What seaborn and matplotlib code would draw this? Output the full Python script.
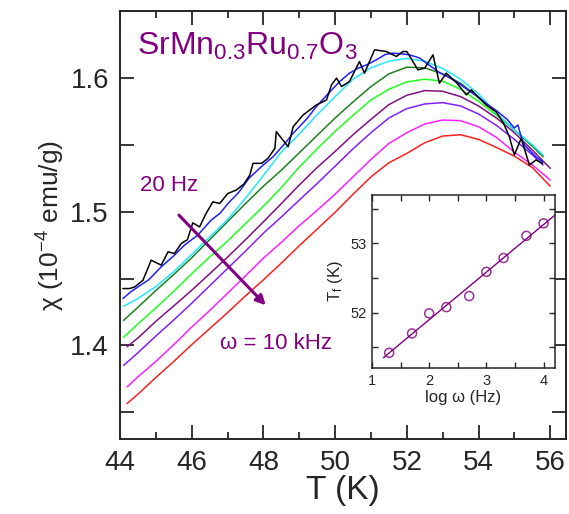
import matplotlib
matplotlib.use("Agg")
import matplotlib.pyplot as plt
import seaborn as sns
import pandas as pd
import numpy as np

# temperature grids (K)
t_short = [44.1, 44.5, 45.0, 45.5, 46.0, 46.5, 47.0, 47.5, 48.0, 48.5, 49.0, 49.5, 50.0,
           50.5, 51.0, 51.5, 52.0, 52.5, 53.0, 53.5, 54.0, 54.5, 55.0, 55.5, 55.8]
t_long = [44.2, 44.5, 45.0, 45.5, 46.0, 46.5, 47.0, 47.5, 48.0, 48.5, 49.0, 49.5, 50.0,
          50.5, 51.0, 51.5, 52.0, 52.5, 53.0, 53.5, 54.0, 54.5, 55.0, 55.5, 56.0]

# 20 Hz (noisy)
t_20hz = [44.08, 44.27, 44.41, 44.64, 44.87, 45.15, 45.34, 45.52, 45.71, 45.88, 46.03, 46.22,
          46.40, 46.59, 46.78, 47.01, 47.24, 47.45, 47.62, 47.71, 47.95, 48.13, 48.32, 48.36,
          48.69, 48.83, 49.11, 49.48, 49.76, 49.90, 50.04, 50.18, 50.40, 50.68, 50.82, 51.10,
          51.43, 51.71, 51.89, 52.00, 52.31, 52.50, 52.73, 52.91, 53.10, 53.40, 53.66, 53.80,
          53.98, 54.21, 54.49, 54.70, 54.86, 55.00, 55.19, 55.42, 55.60, 55.79]
chi_20hz = [1.4425, 1.4425, 1.4437, 1.4487, 1.4637, 1.4600, 1.4699, 1.4687, 1.4762, 1.4790, 1.4916, 1.4886,
            1.4986, 1.5073, 1.5061, 1.5136, 1.5161, 1.5205, 1.5273, 1.5361, 1.5361, 1.5399, 1.5473, 1.5598,
            1.5485, 1.5635, 1.5723, 1.5798, 1.5835, 1.5948, 1.5998, 1.5935, 1.5973, 1.6122, 1.6035, 1.6210,
            1.6197, 1.6160, 1.6197, 1.6197, 1.6060, 1.6073, 1.6172, 1.5960, 1.6035, 1.5960, 1.5873, 1.5910,
            1.5860, 1.5798, 1.5748, 1.5660, 1.5560, 1.5423, 1.5548, 1.5348, 1.5386, 1.5361]

# 50 Hz
t_50hz = [44.08, 44.3, 44.5, 44.8, 45.15, 45.5, 45.8, 46.17, 46.54, 46.8, 47.01, 47.3, 47.6, 48.0,
          48.27, 48.6, 48.83, 49.2, 49.48, 49.8, 50.13, 50.4, 50.64, 50.9, 51.15, 51.4, 51.61, 51.85,
          52.08, 52.36, 52.6, 52.91, 53.2, 53.38, 53.7, 54.0, 54.21, 54.5, 54.8, 55.0, 55.1, 55.19,
          55.28, 55.42, 55.6, 55.79]
chi_50hz = [1.4350, 1.4400, 1.4437, 1.4490, 1.4587, 1.4670, 1.4750, 1.4824, 1.4936, 1.4990, 1.5061, 1.5140,
            1.5250, 1.5350, 1.5410, 1.5510, 1.5586, 1.5690, 1.5786, 1.5880, 1.5973, 1.6035, 1.6072, 1.6100,
            1.6135, 1.6175, 1.6185, 1.6180, 1.6172, 1.6148, 1.6100, 1.6040, 1.6000, 1.5972, 1.5910, 1.5855,
            1.5810, 1.5755, 1.5690, 1.5625, 1.5648, 1.5560, 1.5498, 1.5460, 1.5410, 1.5373]

chi_100hz = [1.4292, 1.4350, 1.4440, 1.4550, 1.4680, 1.4810, 1.4940, 1.5100, 1.5270, 1.5445, 1.5580, 1.5725,
             1.5860, 1.5990, 1.6075, 1.6125, 1.6145, 1.6125, 1.6070, 1.5990, 1.5880, 1.5735, 1.5610, 1.5500,
             1.5423]
chi_200hz = [1.4187, 1.4285, 1.4410, 1.4530, 1.4655, 1.4790, 1.4925, 1.5060, 1.5190, 1.5310, 1.5440, 1.5570,
             1.5700, 1.5820, 1.5935, 1.6030, 1.6080, 1.6075, 1.6030, 1.5960, 1.5855, 1.5735, 1.5610, 1.5490,
             1.5410]
chi_500hz = [1.4060, 1.4160, 1.4280, 1.4405, 1.4535, 1.4660, 1.4780, 1.4910, 1.5040, 1.5180, 1.5333, 1.5470,
             1.5600, 1.5720, 1.5835, 1.5915, 1.5970, 1.5990, 1.5975, 1.5915, 1.5825, 1.5720, 1.5610, 1.5490,
             1.5415]
chi_1khz = [1.3990, 1.4055, 1.4180, 1.4295, 1.4412, 1.4535, 1.4660, 1.4790, 1.4924, 1.5060, 1.5199, 1.5330,
            1.5450, 1.5575, 1.5690, 1.5800, 1.5870, 1.5905, 1.5900, 1.5860, 1.5790, 1.5700, 1.5590, 1.5460,
            1.5324]
chi_2khz = [1.3850, 1.3945, 1.4070, 1.4190, 1.4315, 1.4445, 1.4575, 1.4705, 1.4839, 1.4960, 1.5086, 1.5210,
            1.5340, 1.5470, 1.5590, 1.5700, 1.5770, 1.5805, 1.5815, 1.5790, 1.5730, 1.5645, 1.5540, 1.5425,
            1.5348]
chi_5khz = [1.3690, 1.3765, 1.3880, 1.4005, 1.4137, 1.4260, 1.4390, 1.4520, 1.4652, 1.4770, 1.4895, 1.5010,
            1.5130, 1.5260, 1.5390, 1.5510, 1.5590, 1.5655, 1.5685, 1.5680, 1.5635, 1.5555, 1.5445, 1.5350,
            1.5236]
chi_10khz = [1.3566, 1.3635, 1.3760, 1.3880, 1.4005, 1.4125, 1.4245, 1.4370, 1.4490, 1.4615, 1.4745, 1.4870,
             1.4995, 1.5130, 1.5260, 1.5365, 1.5435, 1.5515, 1.5565, 1.5575, 1.5540, 1.5480, 1.5415, 1.5330,
             1.5190]

freq_labels = ["20 Hz", "50 Hz", "100 Hz", "200 Hz", "500 Hz", "1 kHz", "2 kHz", "5 kHz", "10 kHz"]
colors = ["#000000", "#1f1fff", "#22e6ff", "#1f7f1f", "#1fff1f", "#801080", "#8020ff", "#ff20ff", "#ff1f1f"]

# inset: freezing temperature vs log frequency
log_w = [1.3, 1.7, 2.0, 2.3, 2.7, 3.0, 3.3, 3.7, 4.0]
t_f = [51.42, 51.70, 51.99, 52.08, 52.24, 52.59, 52.79, 53.11, 53.29]

series = [
    (t_20hz, chi_20hz), (t_50hz, chi_50hz), (t_short, chi_100hz), (t_short, chi_200hz),
    (t_short, chi_500hz), (t_long, chi_1khz), (t_short, chi_2khz), (t_long, chi_5khz),
    (t_long, chi_10khz),
]
rows = []
for lab, (tt, cc) in zip(freq_labels, series):
    for t, c in zip(tt, cc):
        rows.append({"T": t, "chi": c, "freq": lab})
df = pd.DataFrame(rows)

sns.set_style("ticks")
plt.rcParams["font.family"] = ["Liberation Sans", "DejaVu Sans"]
plt.rcParams["mathtext.default"] = "regular"

purple = "#800080"

fig = plt.figure(figsize=(5.69, 5.14), dpi=100)
ax = fig.add_axes([0.2109, 0.1459, 0.7838, 0.8327])

sns.lineplot(data=df, x="T", y="chi", hue="freq", hue_order=freq_labels[::-1],
             palette=dict(zip(freq_labels, colors)), estimator=None, sort=False,
             legend=False, linewidth=1.1, ax=ax)

ax.set_xlim(44, 56.44)
ax.set_ylim(1.33, 1.65)
ax.set_xticks([44, 46, 48, 50, 52, 54, 56])
ax.set_xticks([45, 47, 49, 51, 53, 55], minor=True)
ax.set_yticks([1.35, 1.4, 1.45, 1.5, 1.55, 1.6])
ax.set_yticklabels(["", "1.4", "", "1.5", "", "1.6"])
ax.tick_params(which="both", direction="in", top=True, right=True, width=1.3, labelsize=20, pad=8)
ax.tick_params(which="major", length=10)
ax.tick_params(which="minor", length=5)
for s in ax.spines.values():
    s.set_linewidth(1.4)
ax.set_xlabel("T (K)", fontsize=24, labelpad=-1)
ax.set_ylabel("χ (10$^{-4}$ emu/g)", fontsize=19, labelpad=2)

ax.text(44.47, 1.6172, "SrMn$_{0.3}$Ru$_{0.7}$O$_3$", color=purple, fontsize=23, va="baseline")
ax.text(44.56, 1.5199, "20 Hz", color=purple, fontsize=16, va="center")
ax.text(46.79, 1.4015, "ω = 10 kHz", color=purple, fontsize=16, va="center")
ax.annotate("", xy=(48.12, 1.4285), xytext=(45.59, 1.4989),
            arrowprops=dict(arrowstyle="-|>", color=purple, lw=2.2, mutation_scale=14))

# inset
ins = fig.add_axes([0.6538, 0.284, 0.3216, 0.3366])
ins.set_xlim(1.2, 4.2)
sns.regplot(x=log_w, y=t_f, ci=None, truncate=False, ax=ins,
            scatter_kws=dict(facecolors="none", edgecolors=purple, s=42, linewidths=1.1),
            line_kws=dict(color=purple, lw=1.0))
ins.set_xlim(1.0, 4.2)
ins.set_ylim(51.2, 53.7)
ins.set_xticks([1, 2, 3, 4])
ins.set_xticks([1.5, 2.5, 3.5], minor=True)
ins.set_yticks([52, 53])
ins.set_yticks([51.5, 52.5, 53.5], minor=True)
ins.tick_params(which="both", direction="in", top=True, right=True, length=4, width=1.0,
                labelsize=10.5, pad=4)
for s in ins.spines.values():
    s.set_linewidth(1.1)
ins.set_xlabel("log ω (Hz)", fontsize=12, labelpad=2)
ins.set_ylabel("T$_f$ (K)", fontsize=12, labelpad=4)

fig.savefig("out.png", dpi=100)
